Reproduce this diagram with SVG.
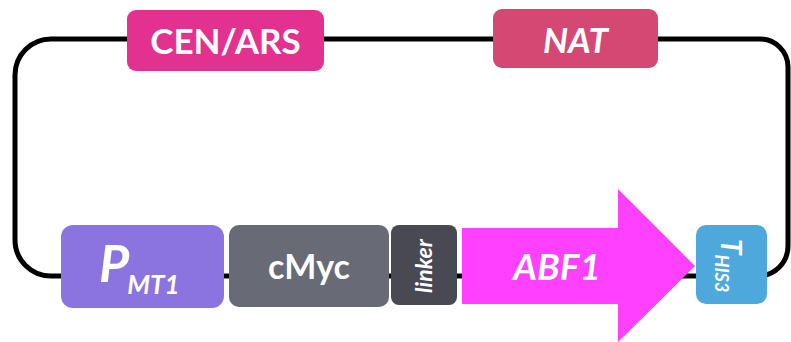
<svg xmlns="http://www.w3.org/2000/svg" width="791" height="342" viewBox="0 0 791 342">
  <style>
    .lbl { font-family: Lato, "Open Sans", "Liberation Sans", sans-serif; font-weight: bold; fill: #ffffff; }
    .it { font-style: italic; }
    .backbone { fill: none; stroke: #000000; stroke-width: 5; }
  </style>
  <rect width="791" height="342" fill="#ffffff"/>

  <!-- plasmid backbone -->
  <g id="connectors">
    <path class="backbone" d="M 51 39 H 760 A 28 28 0 0 1 788 67 V 246 A 30 30 0 0 1 758 276 H 51 A 36 36 0 0 1 15 240 V 75 A 36 36 0 0 1 51 39 Z"/>
  </g>

  <g id="cen-ars">
    <rect x="127" y="10" width="197" height="61" rx="9" fill="#E33190"/>
    <text class="lbl" x="225.5" y="54" font-size="35" text-anchor="middle">CEN/ARS</text>
  </g>

  <g id="nat">
    <rect x="493" y="9" width="165" height="59" rx="9" fill="#D54873"/>
    <text class="lbl it" x="575.5" y="53" font-size="35" text-anchor="middle">NAT</text>
  </g>

  <g id="promoter">
    <rect x="61" y="225" width="163" height="83" rx="12" fill="#8B74E0"/>
    <text class="lbl it" x="99" y="282" font-size="52">P<tspan font-size="26" dy="12" dx="-2">MT1</tspan></text>
  </g>

  <g id="cmyc">
    <rect x="229" y="225" width="160" height="82" rx="10" fill="#686B75"/>
    <text class="lbl" x="309" y="279" font-size="34" text-anchor="middle">cMyc</text>
  </g>

  <g id="linker">
    <rect x="391" y="225" width="66" height="80" rx="8" fill="#494953"/>
    <text class="lbl it" transform="translate(432 266) rotate(-90)" font-size="23" text-anchor="middle">linker</text>
  </g>

  <g id="abf1">
    <polygon points="462,228 618,228 618,189 695,266 618,342 618,304 462,304" fill="#FF40FF"/>
    <text class="lbl it" x="557" y="280" font-size="37" text-anchor="middle">ABF1</text>
  </g>

  <g id="this3">
    <rect x="696" y="225" width="71" height="79" rx="10" fill="#4FA8DC"/>
    <text class="lbl it" transform="translate(721 239) rotate(90)" font-size="28" font-weight="normal">T<tspan font-size="18" dy="6">HIS3</tspan></text>
  </g>
</svg>
